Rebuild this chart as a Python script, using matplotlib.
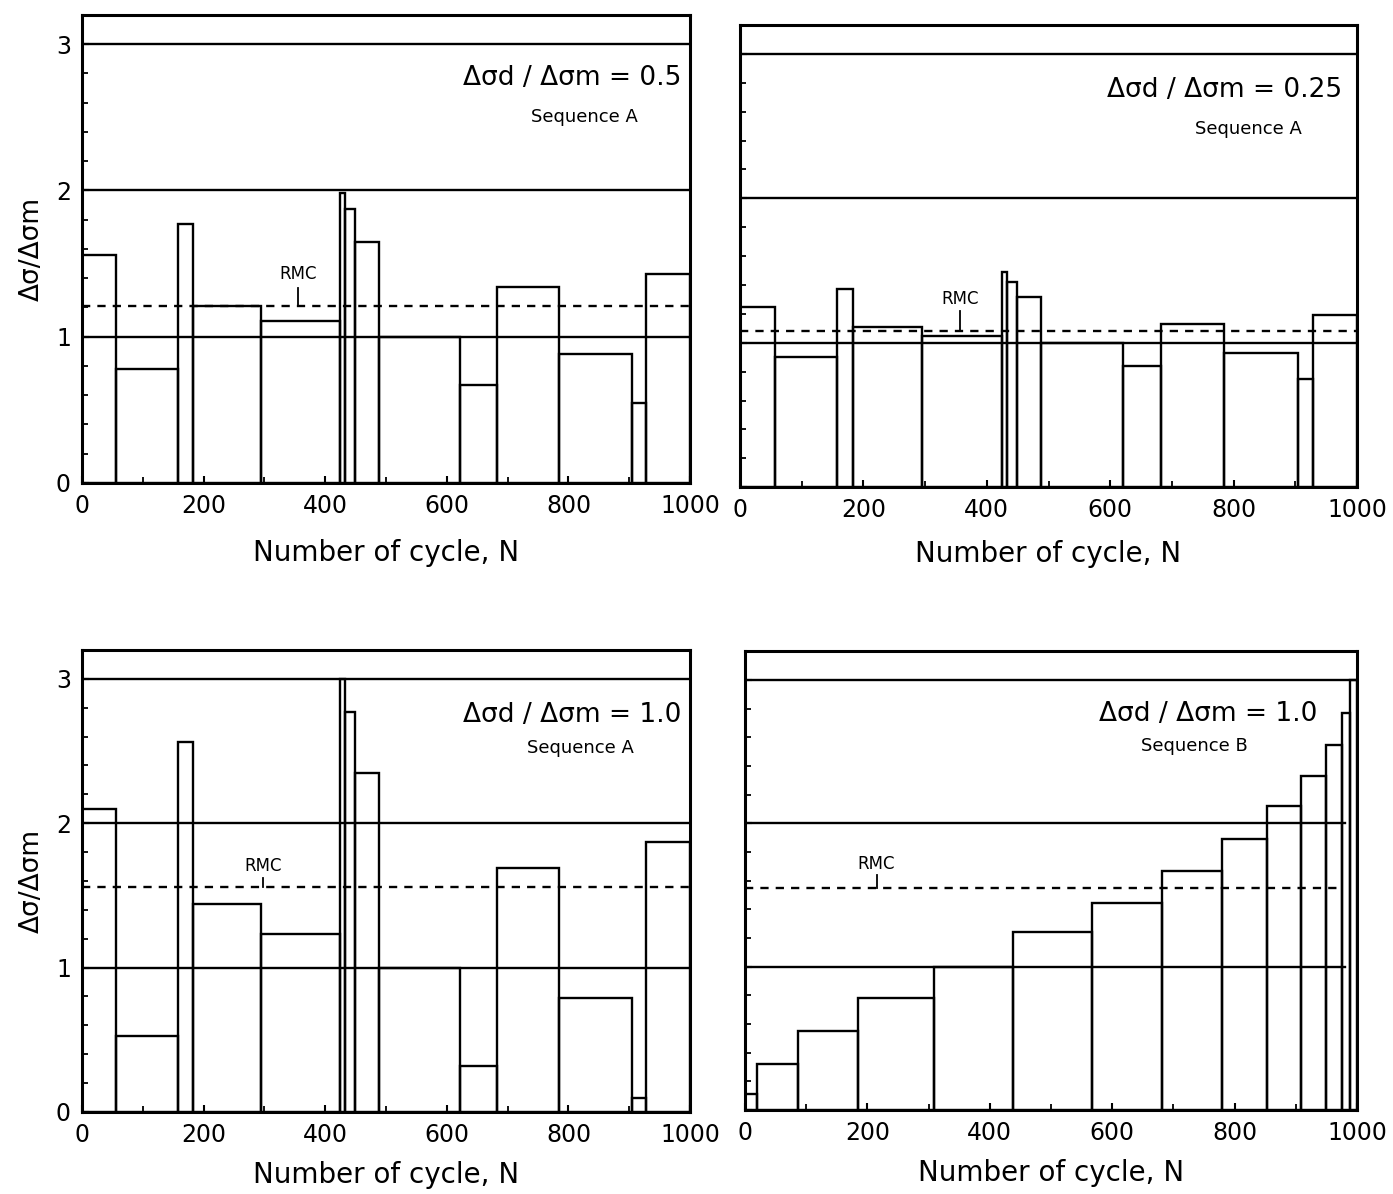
import matplotlib
matplotlib.use("Agg")
import numpy as np
import matplotlib.pyplot as plt
from matplotlib.ticker import MultipleLocator

# Block boundaries (number of cycles) for the two loading sequences
edges_seq_a = [0, 56, 157, 183, 295, 425, 433, 449, 488, 621, 683, 785, 904, 928, 1000]
edges_seq_b = [0, 20, 87, 185, 309, 438, 567, 681, 779, 853, 908, 950, 975, 988, 1000]

# Normalised stress range per block
ratio_050_seq_a = [1.56, 0.78, 1.77, 1.21, 1.11, 1.98, 1.87, 1.65, 1.00, 0.67, 1.34, 0.88, 0.55, 1.43]
ratio_025_seq_a = [1.25, 0.90, 1.37, 1.11, 1.05, 1.49, 1.42, 1.32, 1.00, 0.84, 1.13, 0.93, 0.75, 1.19]
ratio_100_seq_a = [2.10, 0.525, 2.56, 1.44, 1.23, 3.00, 2.77, 2.35, 1.00, 0.32, 1.69, 0.79, 0.10, 1.87]
ratio_100_seq_b = [0.11, 0.32, 0.55, 0.78, 1.00, 1.24, 1.445, 1.67, 1.89, 2.12, 2.33, 2.55, 2.77, 3.00]

# Root-mean-cube levels
rmc_levels = [1.21, 1.08, 1.56, 1.55]

titles = ["\u0394\u03c3d / \u0394\u03c3m = 0.5", "\u0394\u03c3d / \u0394\u03c3m = 0.25",
          "\u0394\u03c3d / \u0394\u03c3m = 1.0", "\u0394\u03c3d / \u0394\u03c3m = 1.0"]
sequences = ["Sequence A", "Sequence A", "Sequence A", "Sequence B"]
x_ticks = [0, 200, 400, 600, 800, 1000]
y_ticks = [0, 1, 2, 3]

plt.rcParams['font.family'] = ['DejaVu Sans']

fig = plt.figure(figsize=(13.93, 11.94), dpi=100)
positions = [
    [0.0589, 0.5955, 0.4365, 0.392],
    [0.5312, 0.5920, 0.4430, 0.387],
    [0.0589, 0.0687, 0.4365, 0.387],
    [0.5348, 0.0704, 0.4393, 0.384],
]

panels = [
    (edges_seq_a, ratio_050_seq_a),
    (edges_seq_a, ratio_025_seq_a),
    (edges_seq_a, ratio_100_seq_a),
    (edges_seq_b, ratio_100_seq_b),
]

# label placement (data coords): title anchor, sequence anchor, RMC label x/y, tick top
title_xy = [(985, 2.77), (975, 2.75), (985, 2.75), (935, 2.76)]
seq_xy = [(827, 2.50), (824, 2.48), (820, 2.52), (735, 2.54)]
rmc_lbl = [(355, 1.43, 1.33), (357, 1.30, 1.22), (297, 1.70, 1.62), (215, 1.72, 1.64)]
ref_xmax = [1.0, 1.0, 1.0, 0.98]
xlabel_pad = [15, 13, 10, 10]

lw = 1.7
for i, (pos, (edges, vals)) in enumerate(zip(positions, panels)):
    ax = fig.add_axes(pos)
    edges = np.asarray(edges, dtype=float)
    widths = np.diff(edges)
    ax.bar(edges[:-1], vals, width=widths, align='edge', fill=False,
           edgecolor='black', linewidth=lw)
    for lev in (1, 2):
        ax.axhline(lev, xmin=0, xmax=ref_xmax[i], color='black', linewidth=lw)
    ax.axhline(3, color='black', linewidth=lw)
    ax.axhline(rmc_levels[i], xmin=0, xmax=ref_xmax[i] - (0.012 if i == 3 else 0),
               color='black', linewidth=lw, linestyle=(0, (3.5, 3)))

    rx, ry, rtop = rmc_lbl[i]
    ax.text(rx, ry, "RMC", ha='center', va='center', fontsize=12)
    ax.plot([rx, rx], [rtop, rmc_levels[i]], color='black', linewidth=1.3)

    tx, ty = title_xy[i]
    ax.text(tx, ty, titles[i], ha='right', va='center', fontsize=19)
    sx, sy = seq_xy[i]
    ax.text(sx, sy, sequences[i], ha='center', va='center', fontsize=13)

    ax.set_xlim(0, 1000)
    ax.set_ylim(0, 3.2)
    ax.set_xticks(x_ticks)
    ax.set_xticklabels([str(t) for t in x_ticks], fontsize=17)
    ax.xaxis.set_minor_locator(MultipleLocator(100))
    ax.set_yticks(y_ticks)
    ax.yaxis.set_minor_locator(MultipleLocator(0.2))
    ax.tick_params(axis='both', which='major', direction='in', length=5, width=1.5, pad=8)
    ax.tick_params(axis='both', which='minor', direction='in', length=4, width=1.3)
    ax.tick_params(axis='y', which='both', right=False)
    ax.tick_params(axis='x', which='both', top=False)
    if i in (0, 2):
        ax.set_yticklabels([str(t) for t in y_ticks], fontsize=17)
        ax.set_ylabel("\u0394\u03c3/\u0394\u03c3m", fontsize=19, labelpad=8)
    else:
        ax.set_yticklabels([])
    ax.set_xlabel("Number of cycle, N", fontsize=20, labelpad=xlabel_pad[i])
    for sp in ax.spines.values():
        sp.set_linewidth(2.2)

fig.savefig("out.png", dpi=100, facecolor='white')
